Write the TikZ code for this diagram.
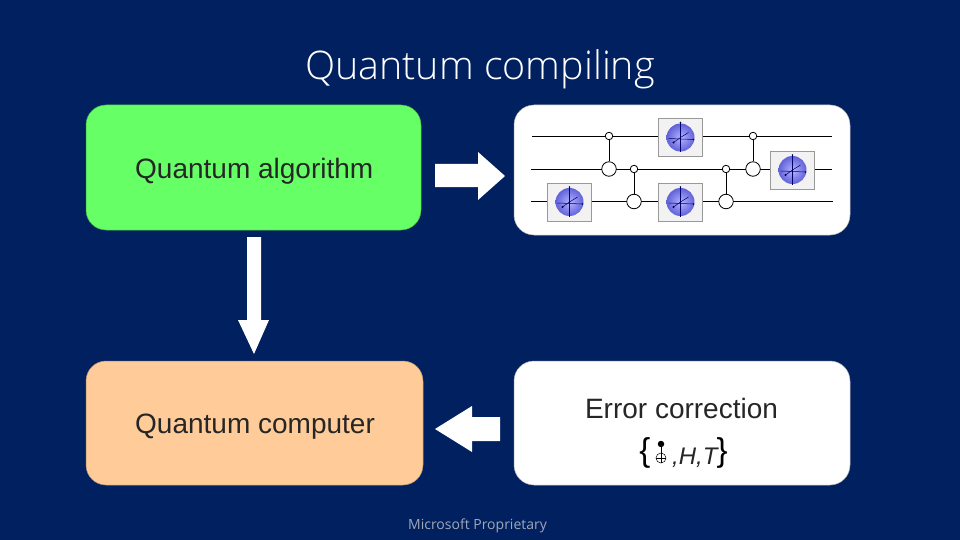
\documentclass[tikz,border=0pt]{standalone}
\usepackage{fontspec}
\setmainfont{Liberation Sans}
\newfontfamily\titlefont{Open Sans Light}[Scale=1]
\newfontfamily\footfont{Open Sans}
\begin{document}
\begin{tikzpicture}[x=1pt,y=-1pt,
  panel/.style={rounded corners=20pt,draw=#1!70!black,line width=0.5pt,fill=#1},
  label/.style={font=\fontsize{28}{30}\selectfont,text=black!85,inner sep=0pt},
  wire/.style={draw=black,line width=0.9pt},
  blockarrow/.style={fill=white,draw=none},
  gatebox/.style={draw=gray!80,line width=0.8pt,fill=black!5,minimum width=44pt,minimum height=38pt,inner sep=0pt},
  ctrl/.style={circle,draw=black,line width=0.8pt,fill=white,minimum size=7.5pt,inner sep=0pt},
  targ/.style={circle,draw=black,line width=0.8pt,fill=white,minimum size=14.5pt,inner sep=0pt},
  spheregate/.pic={
    \shade[inner color=blue!30!white,outer color=blue!55!white!85!black,draw=none] (0,0) circle (14pt);
    \draw[blue!40!black,line width=0.5pt] (0,-15) -- (0,15);
    \draw[blue!40!black,line width=0.5pt] (-12,1) -- (13,2);
    \draw[blue!40!black,line width=0.5pt] (-7,5) -- (0,0) -- (8,-5);
    \fill[blue!30!black] (-7,5) circle (1.1pt);
    \fill[blue!30!black] (0,-15) circle (0.8pt);
    \fill[blue!30!black] (13,2) circle (0.8pt);
  }]
\definecolor{slidebg}{HTML}{002060}
\definecolor{okgreen}{HTML}{66FF66}
\definecolor{peach}{HTML}{FFCC99}
\definecolor{footgray}{HTML}{A0A8B8}
\useasboundingbox[fill=slidebg] (0,0) rectangle (960,540);

\node[font=\titlefont\fontsize{39.4}{42}\selectfont,text=white,inner sep=0pt] (title) at (480,69) {Quantum compiling};

\node[panel=okgreen,minimum width=335pt,minimum height=125pt,inner sep=0pt] (algo) at (253.5,167.5) {};
\node[panel=white,minimum width=336pt,minimum height=130pt,inner sep=0pt] (circuit) at (682,170) {};
\node[panel=peach,minimum width=337pt,minimum height=124pt,inner sep=0pt] (computer) at (254.5,423) {};
\node[panel=white,minimum width=336pt,minimum height=124pt,inner sep=0pt] (error) at (682,423) {};

\node[label,anchor=west] (algotext) at (135,171) {Quantum algorithm};
\node[label,anchor=west] (comptext) at (135,427) {Quantum computer};
\node[label] (errtext) at (681.5,408) {Error correction};

% block arrows
\fill[blockarrow] (435,164) -- (478,164) -- (478,152) -- (505,176) -- (478,200) -- (478,187) -- (435,187) -- cycle;
\fill[blockarrow] (247,237) -- (261,237) -- (261,320) -- (269,320) -- (254,354) -- (238,320) -- (247,320) -- cycle;
\fill[blockarrow] (500,417) -- (472,417) -- (472,406) -- (435,429) -- (472,452) -- (472,441) -- (500,441) -- cycle;

% circuit wires
\coordinate (w1l) at (532,136); \coordinate (w1r) at (832,136);
\coordinate (w2l) at (531,169); \coordinate (w2r) at (832,169);
\coordinate (w3l) at (531,201); \coordinate (w3r) at (833,201);
\draw[wire] (w1l) -- (w1r);
\draw[wire] (w2l) -- (w2r);
\draw[wire] (w3l) -- (w3r);

\node[ctrl] (c1) at (609,136) {};
\node[targ] (t1) at (609,169) {};
\node[ctrl] (c2) at (634,169) {};
\node[targ] (t2) at (634,201.5) {};
\node[ctrl] (c3) at (726,169) {};
\node[targ] (t3) at (726,201.5) {};
\node[ctrl] (c4) at (753,136) {};
\node[targ] (t4) at (753,169) {};
\draw[wire] (c1) -- (t1);
\draw[wire] (c2) -- (t2);
\draw[wire] (c3) -- (t3);
\draw[wire] (c4) -- (t4);

\node[gatebox] (g1) at (680.5,137.5) {};
\node[gatebox] (g2) at (569.5,202) {};
\node[gatebox] (g3) at (680.5,202) {};
\node[gatebox] (g4) at (792.5,170) {};
\pic at (g1.center) {spheregate};
\pic at (g2.center) {spheregate};
\pic at (g3.center) {spheregate};
\pic at (g4.center) {spheregate};

% gate set
\node[font=\fontsize{33}{35}\selectfont,text=black,inner sep=0pt] (lb) at (645,453) {\{};
\node[font=\fontsize{33}{35}\selectfont,text=black,inner sep=0pt] (rb) at (722,453) {\}};
\node[font=\itshape\fontsize{24}{26}\selectfont,text=black!85,inner sep=0pt,anchor=base west] (ht) at (672,464) {,H,T};
\node[circle,fill=black,inner sep=0pt,minimum size=6.5pt] (sc) at (661,444) {};
\node[circle,draw=black,line width=0.5pt,inner sep=0pt,minimum size=10pt] (st) at (661,458) {};
\draw[black,line width=0.5pt] (sc) -- (st.south);
\draw[black,line width=0.5pt] (st.west) -- (st.east);

\node[font=\footfont\fontsize{14}{16}\selectfont,text=footgray,inner sep=0pt] (foot) at (477.5,526) {Microsoft Proprietary};
\end{tikzpicture}
\end{document}
